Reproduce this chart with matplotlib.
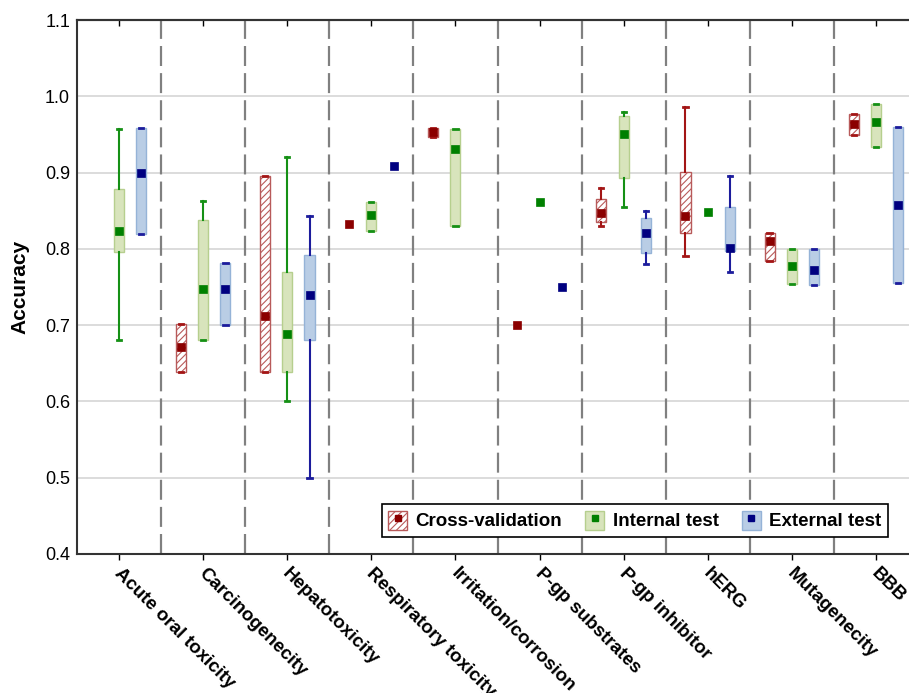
import numpy as np
import matplotlib.pyplot as plt
from matplotlib.patches import Patch
from matplotlib.lines import Line2D
from matplotlib.transforms import ScaledTranslation

plt.rcParams['font.family'] = ['Liberation Sans', 'DejaVu Sans']
plt.rcParams['hatch.linewidth'] = 0.8

categories = ['Acute oral toxicity', 'Carcinogenecity', 'Hepatotoxicity',
              'Respiratory toxicity', 'Irritation/corrosion', 'P-gp substrates',
              'P-gp inhibitor', 'hERG', 'Mutagenecity', 'BBB']

# lo, q1, median, q3, hi  (None = no model)
cv_lo  = [None, .639, .639, .833, .946, .700, .830, .790, .784, .949]
cv_q1  = [None, .639, .639, .833, .946, .700, .835, .821, .784, .949]
cv_med = [None, .671, .712, .833, .953, .700, .847, .843, .810, .964]
cv_q3  = [None, .702, .895, .833, .958, .700, .865, .901, .821, .977]
cv_hi  = [None, .702, .895, .833, .958, .700, .880, .986, .821, .977]

in_lo  = [.680, .680, .600, .823, .830, .861, .855, .848, .754, .933]
in_q1  = [.796, .680, .638, .823, .830, .861, .893, .848, .754, .933]
in_med = [.824, .748, .688, .845, .931, .861, .950, .848, .778, .966]
in_q3  = [.879, .838, .770, .861, .957, .861, .974, .848, .800, .990]
in_hi  = [.957, .863, .920, .861, .957, .861, .980, .848, .800, .990]

ex_lo  = [.820, .700, .500, .908, None, .750, .780, .770, .753, .755]
ex_q1  = [.820, .700, .680, .908, None, .750, .795, .797, .753, .755]
ex_med = [.900, .747, .740, .908, None, .750, .821, .801, .772, .858]
ex_q3  = [.959, .782, .792, .908, None, .750, .840, .855, .800, .960]
ex_hi  = [.959, .782, .843, .908, None, .750, .850, .896, .800, .960]

series = [
    ('Cross-validation', (cv_lo, cv_q1, cv_med, cv_q3, cv_hi), -0.265,
     dict(fc='white', ec='#b85a5a', hatch='/////', mk='#8b0000', wh='#a31515')),
    ('Internal test', (in_lo, in_q1, in_med, in_q3, in_hi), 0.0,
     dict(fc='#d8e4bc', ec='#b6cf8e', hatch=None, mk='#008000', wh='#159015')),
    ('External test', (ex_lo, ex_q1, ex_med, ex_q3, ex_hi), 0.265,
     dict(fc='#b9cde5', ec='#95b3d7', hatch=None, mk='#000080', wh='#1c1c9c')),
]

fig = plt.figure(figsize=(9.09, 6.93), dpi=100)
ax = fig.add_axes([77 / 909, 1 - 554 / 693, 841 / 909, 534 / 693])

x = np.arange(len(categories))
handles = []
for name, (lo, q1, med, q3, hi), off, st in series:
    stats, pos = [], []
    for i in range(len(categories)):
        if lo[i] is None or lo[i] == hi[i]:
            continue
        stats.append(dict(whislo=lo[i], q1=q1[i], med=med[i], q3=q3[i], whishi=hi[i]))
        pos.append(x[i] + off)
    if stats:
        bp = ax.bxp(stats, positions=pos, widths=0.12, patch_artist=True,
                    showfliers=False, capwidths=0.05,
                    boxprops=dict(facecolor=st['fc'], edgecolor=st['ec'], linewidth=1),
                    whiskerprops=dict(color=st['wh'], linewidth=1.5),
                    capprops=dict(color=st['wh'], linewidth=2),
                    medianprops=dict(linewidth=0), zorder=3)
        for b in bp['boxes']:
            if st['hatch']:
                b.set_hatch(st['hatch'])
    mx = [x[i] + off for i in range(len(categories)) if med[i] is not None]
    my = [m for m in med if m is not None]
    ax.plot(mx, my, ls='none', marker='s', ms=6.4, mfc=st['mk'],
            mec=st['mk'], mew=0.5, zorder=4)
    handles.append((Patch(facecolor=st['fc'], edgecolor=st['ec'], hatch=st['hatch'], lw=1),
                    Line2D([], [], ls='none', marker='s', ms=4.5, color=st['mk'])))

ax.set_xlim(-0.5, len(categories) - 0.5)
ax.set_ylim(0.4, 1.1)
ax.set_yticks(np.arange(0.4, 1.11, 0.1))
ax.set_yticklabels(['%.1f' % v for v in np.arange(0.4, 1.11, 0.1)], fontsize=13)
ax.yaxis.grid(True, color='#d9d9d9', linewidth=1.3)
ax.set_axisbelow(True)
ax.tick_params(axis='y', length=0, pad=5)

for b in np.arange(0.5, len(categories) - 0.5, 1.0):
    ax.axvline(b, color='#808080', linewidth=1.6, linestyle=(0, (9, 3.2)), zorder=1)

ax.set_xticks(x)
ax.set_xticklabels(categories, rotation=-45, ha='left', va='top',
                   rotation_mode='anchor', fontsize=13.5, fontweight='bold')
ax.tick_params(axis='x', direction='out', length=4, width=1, pad=5)
shift = ScaledTranslation(0.04, 0.02, fig.dpi_scale_trans)
for lab in ax.get_xticklabels():
    lab.set_transform(lab.get_transform() + shift)
top = ax.secondary_xaxis('top')
top.set_xticks(x)
top.set_xticklabels([])
top.tick_params(direction='in', length=4, width=1)
top.spines['top'].set_linewidth(1.5)
top.spines['top'].set_color('#333333')

for s in ['left', 'bottom', 'top']:
    ax.spines[s].set_linewidth(1.5)
    ax.spines[s].set_color('#333333')
ax.spines['right'].set_visible(False)

ax.set_ylabel('Accuracy', fontsize=15, fontweight='bold', labelpad=11)

leg = ax.legend(handles, [s[0] for s in series],
                ncol=3, loc='lower right', bbox_to_anchor=(888 / 909, 1 - 537 / 693),
                bbox_transform=fig.transFigure, borderaxespad=0, fancybox=False,
                prop=dict(weight='bold', size=13.5), handlelength=1.0, handleheight=1.2,
                handletextpad=0.45, columnspacing=1.25, borderpad=0.35, framealpha=1)
leg.get_frame().set_edgecolor('black')
leg.get_frame().set_linewidth(1.2)

fig.savefig('out.png', dpi=100)
